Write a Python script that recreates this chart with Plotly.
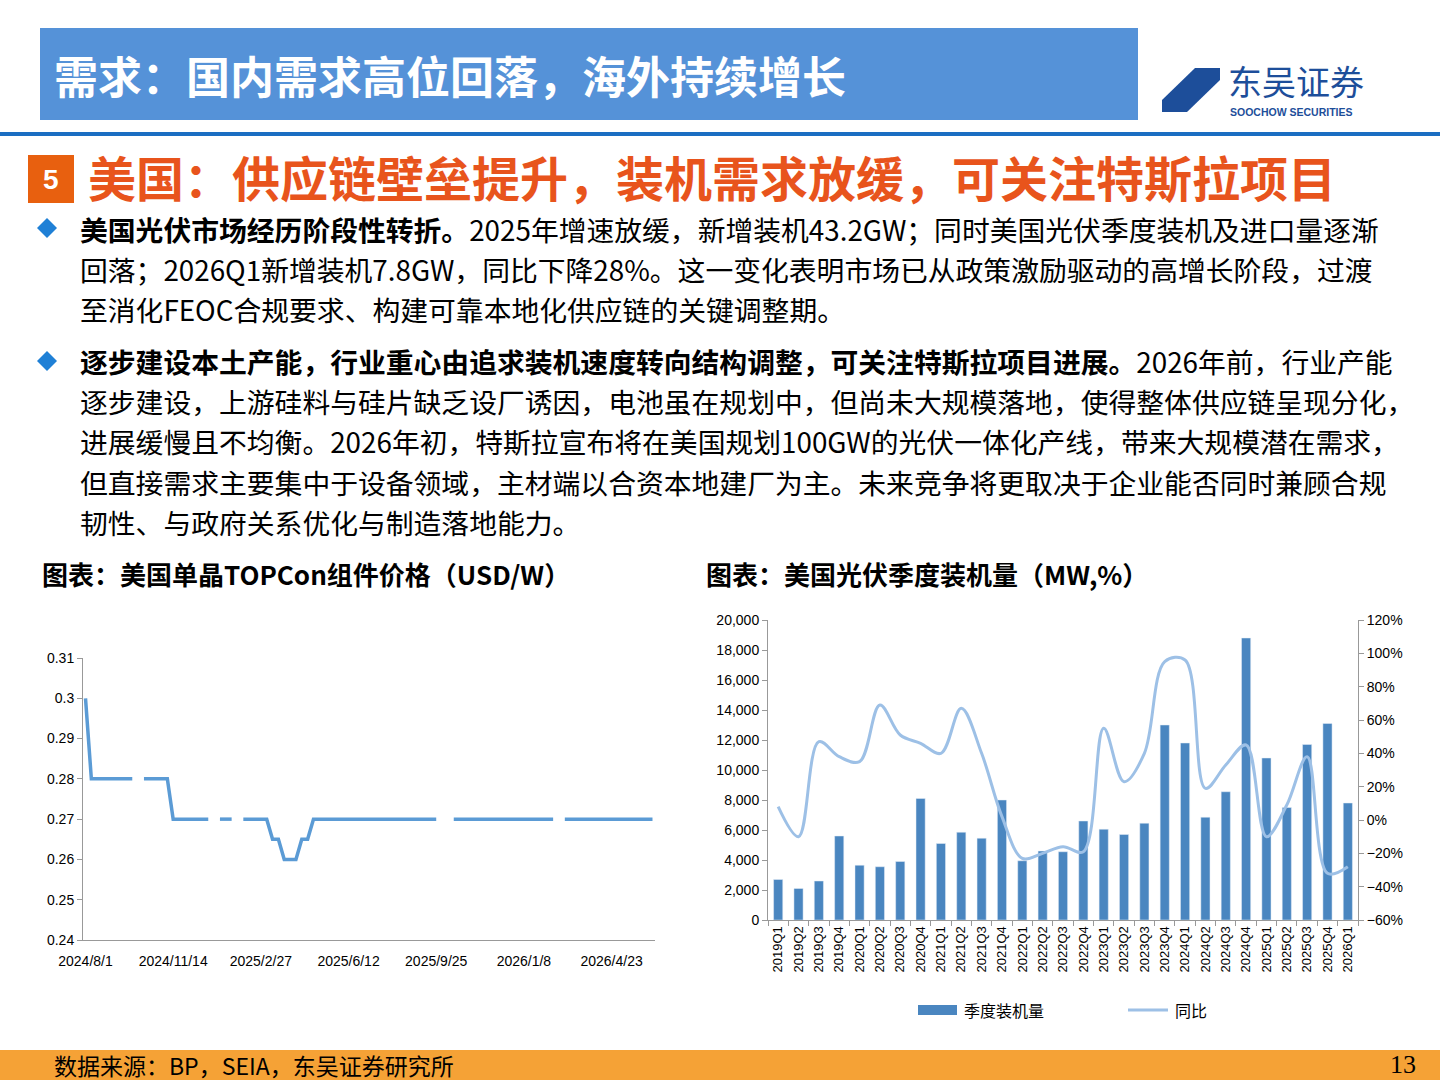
import plotly.graph_objects as go
import pandas as pd

# ---- data: left chart (weekly TOPCon module price, USD/W) ----
price_start = "2024-08-01"
price_values = ([0.30] + [0.28]*8 + [None] + [0.28]*5 + [0.27]*7 + [None] + [0.27]*3 + [None] +
                [0.27]*5 + [0.265, 0.265, 0.26, 0.26, 0.26, 0.265, 0.265] + [0.27]*22 + [None, None] +
                [0.27]*18 + [None] + [0.27]*16)
price_dates = pd.date_range(price_start, periods=len(price_values), freq="7D")
price_tick_labels = ["2024/8/1", "2024/11/14", "2025/2/27", "2025/6/12", "2025/9/25", "2026/1/8", "2026/4/23"]

# ---- data: right chart (US quarterly PV installs, MW and YoY %) ----
quarters = ["2019Q1","2019Q2","2019Q3","2019Q4","2020Q1","2020Q2","2020Q3","2020Q4",
            "2021Q1","2021Q2","2021Q3","2021Q4","2022Q1","2022Q2","2022Q3","2022Q4",
            "2023Q1","2023Q2","2023Q3","2023Q4","2024Q1","2024Q2","2024Q3","2024Q4",
            "2025Q1","2025Q2","2025Q3","2025Q4","2026Q1"]
install_mw = [2700,2100,2600,5600,3650,3550,3900,8100,5100,5850,5450,8000,3950,4600,4550,6600,
              6050,5700,6450,13000,11800,6850,8550,18800,10800,7500,11700,13100,7800]
yoy_pct = [8,-10,47,38,35,69,51,46,40,67,40,2,-23,-20,-16,-19,55,23,40,95,96,19,33,45,-10,9,38,-32,-28]

W, H = 1440, 1080
def px(x): return x / W
def py(y): return 1 - y / H

fig = go.Figure()
fig.add_trace(go.Scatter(x=price_dates, y=price_values, mode="lines", connectgaps=False,
                         line=dict(color="#5b9bd5", width=3.5), xaxis="x", yaxis="y", showlegend=False))
fig.add_trace(go.Bar(x=quarters, y=install_mw, name="季度装机量", marker_color="#4a86c0",
                     width=0.45, xaxis="x2", yaxis="y2", showlegend=False))
fig.add_trace(go.Scatter(x=quarters, y=yoy_pct, name="同比", mode="lines",
                         line=dict(color="#9dc0e6", width=3, shape="spline", smoothing=1.0),
                         xaxis="x2", yaxis="y3", showlegend=False))

tickfont = dict(family="Liberation Sans, Arial", size=14, color="#000")
tickvals = pd.date_range(price_start, periods=7, freq="105D")
fig.update_layout(
    width=W, height=H, margin=dict(l=0, r=0, t=0, b=0, autoexpand=False),
    paper_bgcolor="white", plot_bgcolor="white", showlegend=False,
    font=dict(family="Noto Sans CJK SC", color="#000"),
    xaxis=dict(domain=[px(83), px(655)], range=[pd.Timestamp("2024-07-29"), price_dates[-1] + pd.Timedelta(days=3)],
               tickvals=tickvals, ticktext=price_tick_labels, tickfont=tickfont, automargin=False,
               ticklabelstandoff=8,
               showline=True, linecolor="#999", showgrid=False, ticks="", zeroline=False),
    yaxis=dict(domain=[py(940), py(658)], range=[0.24, 0.31], dtick=0.01, tickfont=tickfont, automargin=False,
               showline=True, linecolor="#999", ticks="outside", ticklen=5,
               tickcolor="#999", showgrid=False, zeroline=False),
    xaxis2=dict(domain=[px(768), px(1358)], tickangle=-90, tickfont=dict(family="Liberation Sans, Arial", size=13),
                showline=True, linecolor="#999", ticks="outside", ticklen=5, tickcolor="#999", automargin=False,
                tickson="boundaries", showgrid=False, anchor="y2"),
    yaxis2=dict(domain=[py(920), py(620)], range=[0, 20000], dtick=2000, tickformat=",", automargin=False,
                tickfont=tickfont, showline=True, linecolor="#999", ticks="outside", ticklen=5,
                tickcolor="#999", showgrid=False, zeroline=False, anchor="x2"),
    yaxis3=dict(domain=[py(920), py(620)], range=[-60, 120], dtick=20, ticksuffix="%", automargin=False,
                tickfont=tickfont, overlaying="y2", side="right", showline=True, linecolor="#999",
                ticks="outside", ticklen=5, tickcolor="#999", showgrid=False, zeroline=False, anchor="x2"),
    bargap=0.5,
)

shapes = [
    dict(type="rect", xref="paper", yref="paper", x0=px(40), x1=px(1138), y0=py(120), y1=py(28),
         fillcolor="#5592d8", line_width=0),
    dict(type="line", xref="paper", yref="paper", x0=0, x1=1, y0=py(134), y1=py(134),
         line=dict(color="#1b6ec2", width=4)),
    dict(type="rect", xref="paper", yref="paper", x0=px(28), x1=px(74), y0=py(203), y1=py(155),
         fillcolor="#e8600f", line_width=0),
    dict(type="rect", xref="paper", yref="paper", x0=0, x1=1, y0=0, y1=py(1050),
         fillcolor="#f5a236", line_width=0),
    dict(type="path", xref="paper", yref="paper",
         path=f"M {px(1162)} {py(100)} L {px(1195)} {py(68)} L {px(1220)} {py(68)} L {px(1220)} {py(80)} "
              f"L {px(1187)} {py(112)} L {px(1162)} {py(112)} Z", fillcolor="#1d4e9a", line_width=0),
    # legend marks
    dict(type="rect", xref="paper", yref="paper", x0=px(918), x1=px(957), y0=py(1015), y1=py(1005),
         fillcolor="#4a86c0", line_width=0),
    dict(type="line", xref="paper", yref="paper", x0=px(1128), x1=px(1168), y0=py(1010), y1=py(1010),
         line=dict(color="#9dc0e6", width=3)),
]
for yy in (228, 361):
    shapes.append(dict(type="path", xref="paper", yref="paper",
                       path=f"M {px(37)} {py(yy)} L {px(47)} {py(yy-10)} L {px(57)} {py(yy)} L {px(47)} {py(yy+10)} Z",
                       fillcolor="#1f80d6", line_width=0))
fig.update_layout(shapes=shapes)

def ann(x, y, text, size, color="#000", xanchor="left", family="Noto Sans CJK SC"):
    fig.add_annotation(x=px(x), y=py(y), xref="paper", yref="paper", text=text, showarrow=False,
                       xanchor=xanchor, yanchor="middle", font=dict(size=size, color=color, family=family))

ann(52, 75, "<b>需求：国内需求高位回落，海外持续增长</b>", 44, "#ffffff")
ann(1226, 80, "东吴证券", 34, "#1d4e9a")
ann(1228, 112, "<b>SOOCHOW SECURITIES</b>", 10.5, "#1d4e9a", family="Liberation Sans, Arial")
ann(51, 179, "<b>5</b>", 28, "#ffffff", xanchor="center", family="Liberation Sans, Arial")
ann(86, 176, "<b>美国：供应链壁垒提升，装机需求放缓，可关注特斯拉项目</b>", 48, "#e8541c")

body = [
    (229, "<b>美国光伏市场经历阶段性转折。</b>2025年增速放缓，新增装机43.2GW；同时美国光伏季度装机及进口量逐渐"),
    (269, "回落；2026Q1新增装机7.8GW，同比下降28%。这一变化表明市场已从政策激励驱动的高增长阶段，过渡"),
    (309, "至消化FEOC合规要求、构建可靠本地化供应链的关键调整期。"),
    (361, "<b>逐步建设本土产能，行业重心由追求装机速度转向结构调整，可关注特斯拉项目进展。</b>2026年前，行业产能"),
    (401, "逐步建设，上游硅料与硅片缺乏设厂诱因，电池虽在规划中，但尚未大规模落地，使得整体供应链呈现分化，"),
    (441, "进展缓慢且不均衡。2026年初，特斯拉宣布将在美国规划100GW的光伏一体化产线，带来大规模潜在需求，"),
    (482, "但直接需求主要集中于设备领域，主材端以合资本地建厂为主。未来竞争将更取决于企业能否同时兼顾合规"),
    (522, "韧性、与政府关系优化与制造落地能力。"),
]
for yy, t in body:
    ann(78, yy, t, 27.8)

ann(40, 573, "<b>图表：美国单晶TOPCon组件价格（USD/W）</b>", 26)
ann(704, 573, "<b>图表：美国光伏季度装机量（MW,%）</b>", 26)
ann(962, 1010, "季度装机量", 16)
ann(1173, 1010, "同比", 16)
ann(52, 1065, "数据来源：BP，SEIA，东吴证券研究所", 23)
ann(1418, 1064, "13", 26, xanchor="right", family="Liberation Serif")

fig.write_html("out.html", config={"displayModeBar": False},
               post_script="document.body.style.margin='0';document.body.style.overflow='hidden';")
